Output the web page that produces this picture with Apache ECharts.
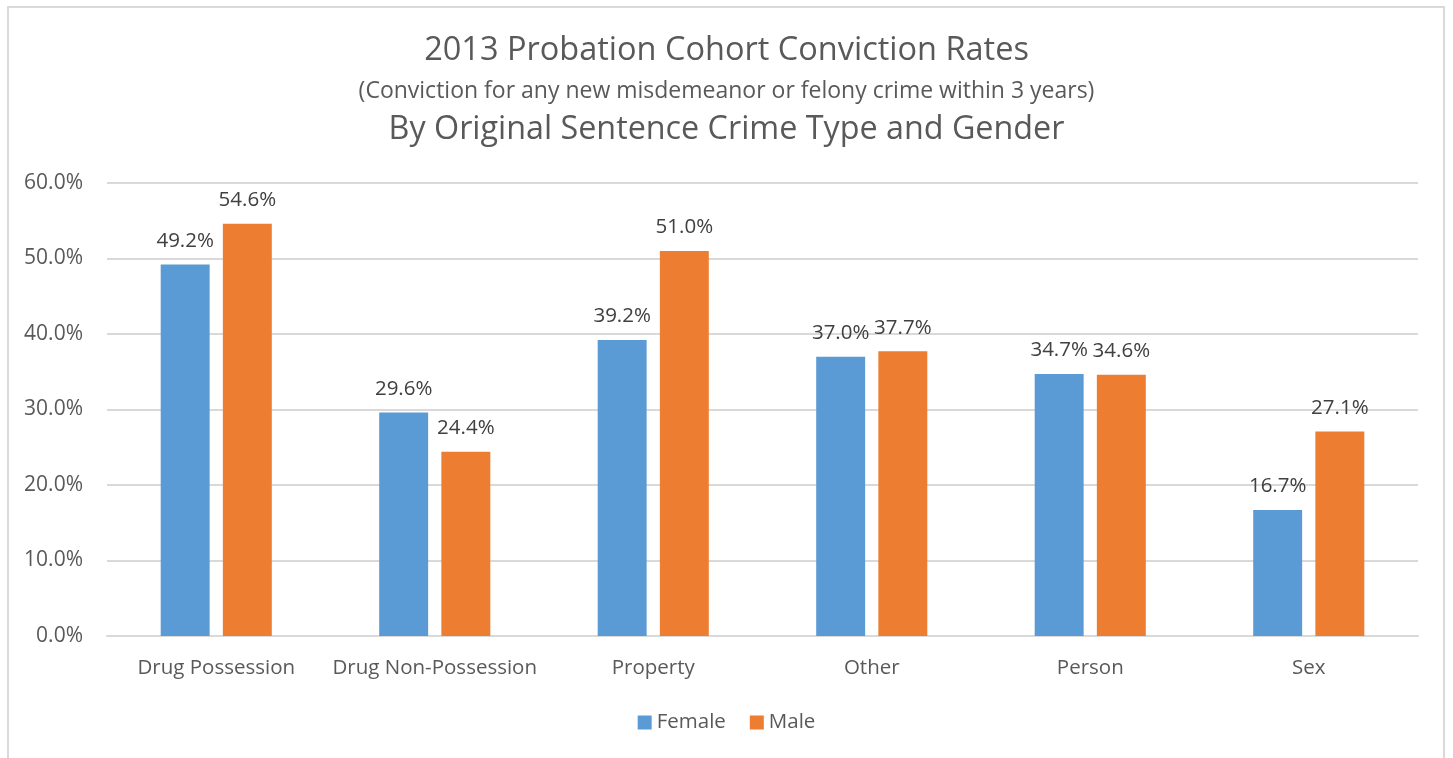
<!DOCTYPE html>
<html>
<head>
<meta charset="utf-8">
<script src="https://cdn.jsdelivr.net/npm/echarts@6/dist/echarts.min.js"></script>
<style>
html,body{margin:0;padding:0;background:#fff;}
#frame{position:absolute;left:7px;top:6px;width:1438px;height:760px;border:2px solid #D9D9D9;box-sizing:border-box;}
#c{position:absolute;left:0;top:0;width:1453px;height:758px;}
</style>
</head>
<body>
<div id="frame"></div>
<div id="c"></div>
<script>
const categories = ['Drug Possession','Drug Non-Possession','Property','Other','Person','Sex'];
const female = [49.2, 29.6, 39.2, 37.0, 34.7, 16.7];
const male = [54.6, 24.4, 51.0, 37.7, 34.6, 27.1];
const seriesNames = ['Female','Male'];
const titleLines = ['2013 Probation Cohort Conviction Rates','(Conviction for any new misdemeanor or felony crime within 3 years)','By Original Sentence Crime Type and Gender'];

const font = '"Open Sans", "Liberation Sans", sans-serif';
const chart = echarts.init(document.getElementById('c'), null, {renderer:'canvas'});
const labelCfg = {show:true, position:'top', distance:13, color:'#404040', fontSize:20.5, fontFamily:font, formatter: p => p.value.toFixed(1) + '%'};
chart.setOption({
  animation:false,
  backgroundColor:'transparent',
  title:[
    {text:titleLines[0], left:'center', top:29, textStyle:{fontSize:32.5, fontWeight:'normal', color:'#595959', fontFamily:font}},
    {text:titleLines[1], left:'center', top:75, textStyle:{fontSize:23, fontWeight:'normal', color:'#595959', fontFamily:font}},
    {text:titleLines[2], left:'center', top:109, textStyle:{fontSize:32.3, fontWeight:'normal', color:'#595959', fontFamily:font}}
  ],
  legend:{bottom:20, left:'center', itemWidth:14, itemHeight:14, itemGap:24, itemStyle:{}, icon:'rect',
    textStyle:{fontSize:20.5, color:'#595959', fontFamily:font}, data:seriesNames},
  grid:{left:107, right:35, top:183, bottom:122, containLabel:false},
  xAxis:{type:'category', data:categories,
    axisLine:{lineStyle:{color:'#D9D9D9', width:2}}, axisTick:{show:false},
    axisLabel:{color:'#595959', fontSize:20.5, fontFamily:font, margin:22, interval:0}},
  yAxis:{type:'value', min:0, max:60, interval:10,
    axisLine:{show:false}, axisTick:{show:false},
    splitLine:{lineStyle:{color:'#D9D9D9', width:2}},
    axisLabel:{color:'#595959', fontSize:21, fontFamily:font, margin:24, formatter: v => v.toFixed(1) + '%'}},
  series:[
    {name:seriesNames[0], type:'bar', data:female, barWidth:'22.4%', barGap:'27%', itemStyle:{color:'#5B9BD5'}, label:labelCfg},
    {name:seriesNames[1], type:'bar', data:male, barWidth:'22.4%', barGap:'27%', itemStyle:{color:'#ED7D31'}, label:labelCfg}
  ]
});
</script>
</body>
</html>
